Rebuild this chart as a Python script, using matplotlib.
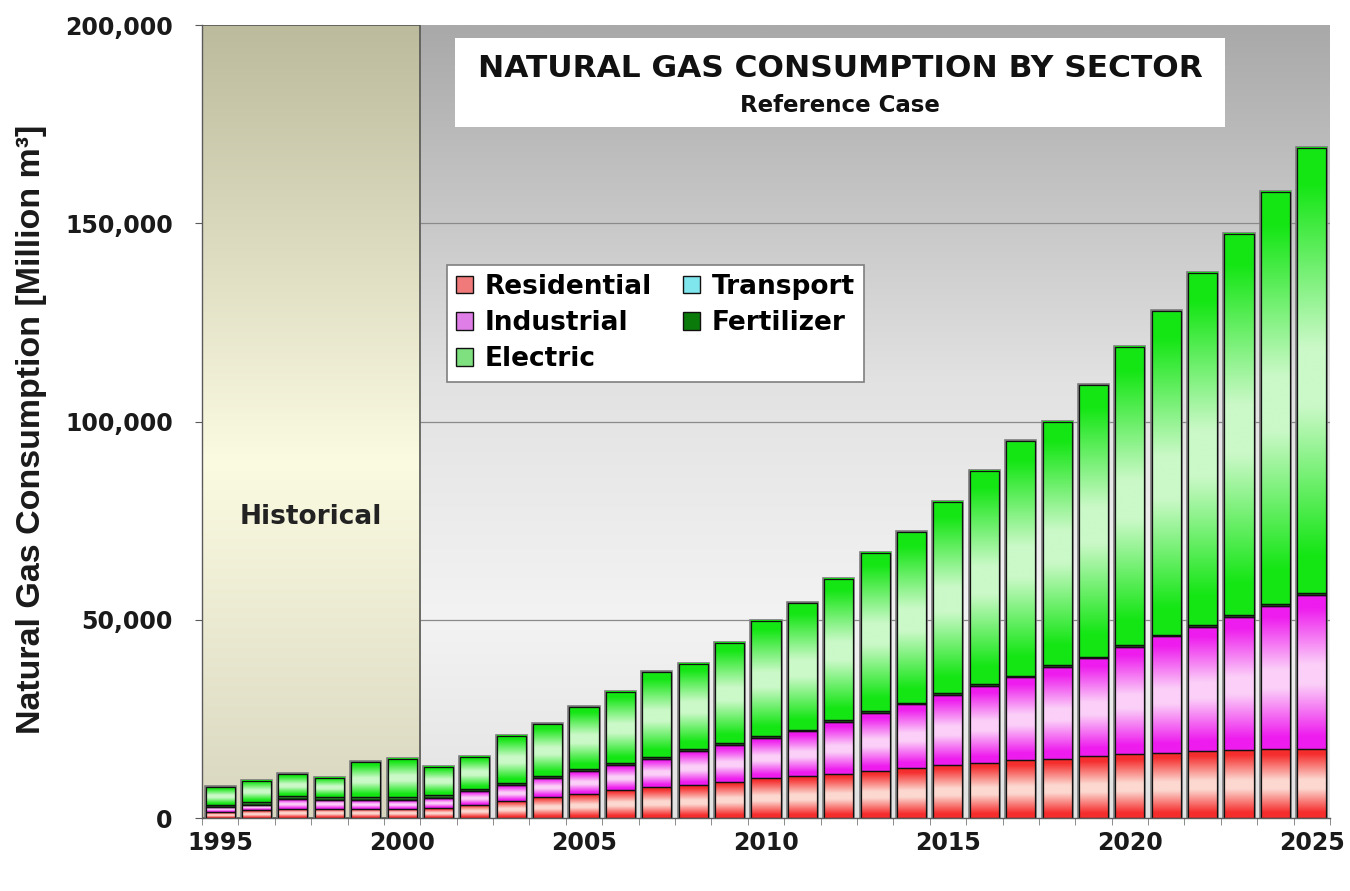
import numpy as np
import matplotlib
matplotlib.use("Agg")
import matplotlib.pyplot as plt
from matplotlib.colors import to_rgb
from matplotlib.patches import Rectangle
from matplotlib.ticker import FuncFormatter

# ---- data (thousand million m3) ----
years = list(range(1995, 2026))
residential = [1.5, 2.0, 2.3, 2.3, 2.4, 2.4, 2.5, 3.3, 4.3, 5.3, 6.1, 7.1, 7.8, 8.3, 9.1, 10.1,
               10.6, 11.1, 11.9, 12.6, 13.4, 13.9, 14.6, 14.9, 15.6, 16.1, 16.5, 17.0, 17.2, 17.4, 17.5]
industrial = [1.3, 1.3, 2.5, 2.3, 2.2, 2.2, 2.5, 3.5, 4.0, 4.8, 5.8, 6.3, 7.1, 8.6, 9.3, 10.1,
              11.3, 13.1, 14.6, 16.1, 17.7, 19.4, 20.9, 23.2, 24.7, 27.1, 29.3, 31.3, 33.5, 36.1, 38.8]
transport = [0, 0, 0, 0, 0, 0, 0, 0, 0, 0, 0, 0, 0, 0, 0, 0,
             0, 0, 0, 0, 0, 0, 0, 0, 0, 0, 0, 0, 0, 0, 0]
fertilizer = [0.6, 0.7, 0.8, 0.7, 0.7, 0.7, 0.7, 0.6, 0.5, 0.5, 0.5, 0.5, 0.5, 0.4, 0.4, 0.4,
              0.4, 0.4, 0.4, 0.4, 0.4, 0.4, 0.4, 0.4, 0.4, 0.4, 0.4, 0.4, 0.4, 0.4, 0.4]
electric = [4.4, 5.3, 5.5, 4.8, 8.8, 9.6, 7.2, 8.1, 12.0, 13.1, 15.6, 18.0, 21.4, 21.5, 25.3, 29.1,
            31.9, 35.7, 39.9, 43.0, 48.2, 53.8, 59.2, 61.4, 68.5, 75.2, 81.7, 88.8, 96.2, 104.0, 112.3]

sectors = ["Residential", "Industrial", "Transport", "Fertilizer", "Electric"]
sector_values = [residential, industrial, transport, fertilizer, electric]
legend_order = ["Residential", "Industrial", "Electric", "Transport", "Fertilizer"]
last_historical_year = 2000
label_years = [1995, 2000, 2005, 2010, 2015, 2020, 2025]
y_ticks = [0, 50000, 100000, 150000, 200000]

# gradient colours per sector: (edge colour, middle colour), plus flat legend swatch
bar_colors = {
    "Residential": ("#f52d2d", "#fcd8d0"),
    "Industrial": ("#ee1cee", "#fbcff8"),
    "Transport": ("#1ed8e0", "#cdf6f8"),
    "Fertilizer": ("#0b5d0b", "#2f8f2f"),
    "Electric": ("#14e614", "#cbf9c8"),
}
legend_colors = {
    "Residential": "#f07a7a",
    "Industrial": "#e07ee8",
    "Transport": "#7fe6ee",
    "Fertilizer": "#0a7a0a",
    "Electric": "#7ee07e",
}


def gradient_column(stops, n=128):
    # stops: (position 0 = top .. 1 = bottom, colour)
    pos = np.linspace(0, 1, n)
    ps = [p for p, _ in stops]
    cols = np.array([to_rgb(c) for _, c in stops])
    img = np.stack([np.interp(pos, ps, cols[:, k]) for k in range(3)], axis=-1)
    return img[:, None, :]


fig = plt.figure(figsize=(13.5, 8.91), dpi=100)
fig.patch.set_facecolor("white")
ax = fig.add_axes([0.1496, 0.0819, 0.8356, 0.8900])

x = np.arange(len(years))
x_min, x_max = -0.5, len(years) - 0.5
y_max = 200000
hist_edge = years.index(last_historical_year) + 0.5

# plot area backgrounds
proj_bg = gradient_column([(0, "#a9a9a9"), (0.45, "#e2e2e2"), (0.75, "#f3f3f3"), (1, "#e2e2e2")])
ax.imshow(proj_bg, extent=[hist_edge, x_max, 0, y_max], aspect="auto", origin="upper",
          interpolation="bilinear", zorder=0)
hist_bg = gradient_column([(0, "#bdbb9d"), (0.55, "#fbfbe2"), (1, "#d8d6be")])
ax.imshow(hist_bg, extent=[x_min, hist_edge, 0, y_max], aspect="auto", origin="upper",
          interpolation="bilinear", zorder=0.5)
ax.add_patch(Rectangle((x_min, 0), hist_edge - x_min, y_max, fill=False,
                       edgecolor="#555555", linewidth=1.2, zorder=1.5))

# gridlines only over the projection part
ax.hlines(y_ticks[1:-1], hist_edge, x_max, color="#8a8a8a", linewidth=0.9, zorder=1)

# stacked bars with per-segment vertical gradient
totals = np.sum(np.array(sector_values), axis=0) * 1000
ax.bar(x, totals, 0.8, facecolor="none", edgecolor="#7a7a7a", linewidth=2.6, zorder=2)

bottom = np.zeros(len(years))
for name, vals in zip(sectors, sector_values):
    vals = np.array(vals) * 1000
    edge, mid = bar_colors[name]
    grad = gradient_column([(0, edge), (0.08, edge), (0.45, mid), (0.58, mid), (0.92, edge), (1, edge)])
    bars = ax.bar(x, vals, 0.8, bottom=bottom, facecolor="none", edgecolor="#111111",
                  linewidth=0.9, zorder=4)
    for patch in bars:
        h = patch.get_height()
        if h <= 0:
            continue
        x0, y0, w = patch.get_x(), patch.get_y(), patch.get_width()
        ax.imshow(grad, extent=[x0, x0 + w, y0, y0 + h], aspect="auto", origin="upper",
                  interpolation="bilinear", zorder=3)
    bottom += vals

ax.set_xlim(x_min, x_max)
ax.set_ylim(0, y_max)

# axes styling
for side in ["top", "right"]:
    ax.spines[side].set_visible(False)
for side in ["left", "bottom"]:
    ax.spines[side].set_color("#5a5a5a")
    ax.spines[side].set_linewidth(1.0)
    ax.spines[side].set_zorder(5)

ax.set_yticks(y_ticks)
ax.yaxis.set_major_formatter(FuncFormatter(lambda v, p: f"{v:,.0f}"))
ax.set_xticks([years.index(yr) for yr in label_years])
ax.set_xticklabels([str(yr) for yr in label_years])
ax.set_xticks(np.arange(x_min, x_max + 0.01, 1.0), minor=True)
ax.tick_params(axis="x", which="major", length=0, pad=9)
ax.tick_params(axis="x", which="minor", length=5, color="#7a7a7a", direction="out")
ax.tick_params(axis="y", which="major", length=5, color="#5a5a5a", direction="out", pad=16)
for lbl in ax.get_xticklabels() + ax.get_yticklabels():
    lbl.set_fontfamily("DejaVu Sans")
    lbl.set_fontweight("bold")
    lbl.set_fontsize(17)
    lbl.set_color("#1a1a1a")

ax.set_ylabel("Natural Gas Consumption [Million m³]", family="Liberation Sans",
              fontweight="bold", fontsize=24.5, color="#1a1a1a", va="center")
ax.yaxis.set_label_coords(-0.1507, 0.4905)

# title box
ax.add_patch(Rectangle((0.2243, 0.8714), 0.6827, 0.1122, transform=ax.transAxes,
                       facecolor="white", edgecolor="none", zorder=5))
ax.text(0.5656, 0.9458, "NATURAL GAS CONSUMPTION BY SECTOR", transform=ax.transAxes,
        ha="center", va="center", family="DejaVu Sans", fontweight="bold", fontsize=22.5,
        color="#111111", zorder=6)
ax.text(0.5656, 0.899, "Reference Case", transform=ax.transAxes, ha="center", va="center",
        family="DejaVu Sans", fontweight="bold", fontsize=16.5, color="#111111", zorder=6)

# historical label
ax.text((x_min + hist_edge) / 2, 76000, "Historical", ha="center", va="center",
        family="DejaVu Sans", fontweight="bold", fontsize=19, color="#222222", zorder=6)

# legend
handles = [Rectangle((0, 0), 1, 1, facecolor=legend_colors[n], edgecolor="#111111", linewidth=1.0)
           for n in legend_order]
leg = ax.legend(handles, legend_order, ncol=2, loc="upper left", bbox_to_anchor=(0.2172, 0.6974),
                borderaxespad=0, frameon=True, fancybox=False, framealpha=1,
                edgecolor="#7f7f7f", facecolor="white", handlelength=0.62, handleheight=0.62,
                handletextpad=0.45, columnspacing=1.2, labelspacing=0.38, borderpad=0.35,
                prop={"family": "DejaVu Sans", "weight": "bold", "size": 19})
leg.get_frame().set_linewidth(1.2)
leg.set_zorder(7)

fig.savefig("out.png", dpi=100)
